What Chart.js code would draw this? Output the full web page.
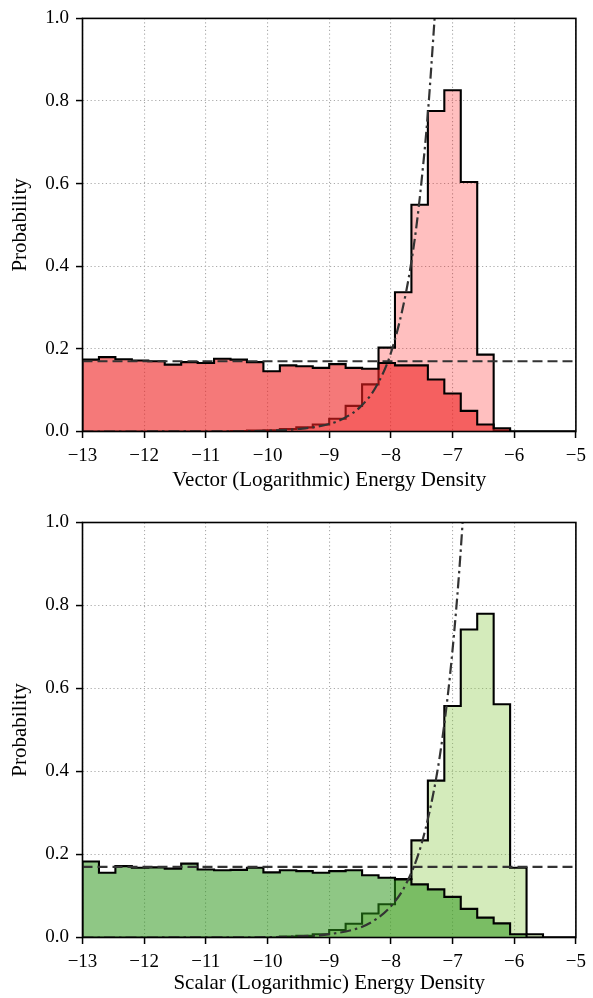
<!DOCTYPE html>
<html>
<head>
<meta charset="utf-8">
<script src="https://cdn.jsdelivr.net/npm/chart.js@4.4.0/dist/chart.umd.min.js"></script>
<style>
  html, body { margin: 0; padding: 0; background: #fff; }
  canvas { display: block; }
</style>
</head>
<body>
<canvas id="grafico-vector" width="593" height="499"></canvas>
<canvas id="grafico-scalar" width="593" height="499"></canvas>
<script>
// histogram bins: 30 bins spanning the x range
var binStart = -13;
var binEnd = -5;
var binCount = 30;

// bin heights (probability density)
var vectorFlat = [0.174, 0.180, 0.175, 0.172, 0.170, 0.162, 0.168, 0.166, 0.176, 0.174,
                  0.168, 0.146, 0.160, 0.158, 0.154, 0.163, 0.154, 0.152, 0.166, 0.160,
                  0.160, 0.126, 0.092, 0.050, 0.017, 0.008, 0, 0, 0, 0];
var vectorPeak = [0, 0, 0, 0, 0, 0, 0, 0, 0, 0.001,
                  0.002, 0.003, 0.006, 0.010, 0.017, 0.031, 0.062, 0.114, 0.203, 0.337,
                  0.549, 0.776, 0.826, 0.604, 0.186, 0.002, 0, 0, 0, 0];
var scalarFlat = [0.183, 0.156, 0.172, 0.168, 0.169, 0.166, 0.178, 0.164, 0.162, 0.163,
                  0.168, 0.157, 0.162, 0.160, 0.156, 0.160, 0.162, 0.150, 0.144, 0.140,
                  0.128, 0.116, 0.098, 0.069, 0.048, 0.034, 0.008, 0, 0, 0];
var scalarPeak = [0, 0, 0, 0, 0, 0, 0, 0, 0, 0,
                  0, 0, 0.002, 0.004, 0.008, 0.018, 0.033, 0.058, 0.080, 0.141,
                  0.234, 0.378, 0.558, 0.742, 0.780, 0.562, 0.168, 0.008, 0, 0];

// dash-dot fit curves
var vectorFitX = [-13, -10.5, -10, -9.5, -9, -8.75, -8.5, -8.25, -8, -7.75, -7.6, -7.5, -7.4, -7.3, -7.25];
var vectorFitY = [0, 0.0005, 0.002, 0.006, 0.018, 0.033, 0.059, 0.106, 0.19, 0.34, 0.48, 0.61, 0.77, 0.98, 1.09];
var scalarFitX = [-13, -10.5, -10, -9.5, -9, -8.5, -8.25, -8, -7.75, -7.5, -7.25, -7.1, -7, -6.9, -6.8];
var scalarFitY = [0, 0.0003, 0.0009, 0.0026, 0.008, 0.024, 0.043, 0.075, 0.13, 0.227, 0.397, 0.554, 0.693, 0.866, 1.08];

// dashed uniform level
var uniformLevel = 0.17;

var xTicks = [-13, -12, -11, -10, -9, -8, -7, -6, -5];
var yTicks = [0, 0.2, 0.4, 0.6, 0.8, 1.0];

Chart.defaults.font.family = "'Liberation Serif', 'Times New Roman', serif";
Chart.defaults.color = "#000";

function binEdges() {
  var edges = [];
  for (var k = 0; k <= binCount; k++) {
    edges.push(binStart + (k * (binEnd - binStart)) / binCount);
  }
  return edges;
}

function histPoints(values) {
  var edges = binEdges();
  var pts = [{ x: edges[0], y: 0 }];
  for (var i = 0; i < values.length; i++) {
    pts.push({ x: edges[i], y: values[i] });
  }
  pts.push({ x: edges[binCount], y: 0 });
  return pts;
}

function zipPoints(xs, ys) {
  return xs.map(function (x, i) {
    return { x: x, y: ys[i] };
  });
}

var framePlugin = {
  id: "frame",
  afterDatasetsDraw: function (chart) {
    var ctx = chart.ctx;
    var a = chart.chartArea;
    ctx.save();
    ctx.strokeStyle = "#000";
    ctx.lineWidth = 1.6;
    ctx.strokeRect(a.left, a.top, a.right - a.left, a.bottom - a.top);
    ctx.restore();
  },
};

function makeChart(id, cfg) {
  var ctx = document.getElementById(id).getContext("2d");
  return new Chart(ctx, {
    type: "line",
    data: {
      datasets: [
        {
          label: "fit",
          data: zipPoints(cfg.fitX, cfg.fitY),
          borderColor: "#333333",
          borderWidth: 2.2,
          borderDash: [11, 4, 2.5, 4],
          cubicInterpolationMode: "monotone",
          pointRadius: 0,
          fill: false,
          order: 0,
        },
        {
          label: "uniform",
          data: [{ x: binStart, y: uniformLevel }, { x: binEnd, y: uniformLevel }],
          borderColor: "#333333",
          borderWidth: 2.2,
          borderDash: [10, 5],
          pointRadius: 0,
          fill: false,
          order: 1,
        },
        {
          label: "flat",
          data: histPoints(cfg.flat),
          stepped: "before",
          borderColor: "#000",
          borderWidth: 2.1,
          backgroundColor: cfg.flatColor,
          fill: "origin",
          pointRadius: 0,
          order: 2,
        },
        {
          label: "peak",
          data: histPoints(cfg.peak),
          stepped: "before",
          borderColor: "#000",
          borderWidth: 2.1,
          backgroundColor: cfg.peakColor,
          fill: "origin",
          pointRadius: 0,
          order: 3,
        },
      ],
    },
    options: {
      responsive: false,
      animation: false,
      events: [],
      layout: {
        padding: { left: 0, right: 16, top: cfg.top, bottom: 0 },
      },
      plugins: {
        legend: { display: false },
        tooltip: { enabled: false },
      },
      scales: {
        x: {
          type: "linear",
          min: binStart,
          max: binEnd,
          afterBuildTicks: function (s) {
            s.ticks = xTicks.map(function (v) { return { value: v }; });
          },
          afterFit: function (s) {
            s.height = cfg.xHeight;
          },
          ticks: {
            maxRotation: 0,
            autoSkip: false,
            padding: 7,
            font: { size: 19 },
            callback: function (v) {
              return v < 0 ? "\u2212" + Math.abs(v) : String(v);
            },
          },
          grid: {
            color: "#aaaaaa",
            lineWidth: 1.1,
            tickLength: 6.5,
            tickColor: "#000",
            tickWidth: 1.5,
          },
          border: { display: false, dash: [1.2, 2.6] },
          title: {
            display: true,
            text: cfg.xTitle,
            font: { size: 21 },
            padding: { top: 0, bottom: cfg.titlePad },
          },
        },
        y: {
          min: 0,
          max: 1,
          afterBuildTicks: function (s) {
            s.ticks = yTicks.map(function (v) { return { value: v }; });
          },
          afterFit: function (s) {
            s.width = 82.5;
          },
          ticks: {
            padding: 7,
            font: { size: 19 },
            callback: function (v) {
              return v.toFixed(1);
            },
          },
          grid: {
            color: "#aaaaaa",
            lineWidth: 1.1,
            tickLength: 6.5,
            tickColor: "#000",
            tickWidth: 1.5,
          },
          border: { display: false, dash: [1.2, 2.6] },
          title: {
            display: true,
            text: "Probability",
            font: { size: 21 },
            padding: { top: 7.5, bottom: 0 },
          },
        },
      },
    },
    plugins: [framePlugin],
  });
}

makeChart("grafico-vector", {
  flat: vectorFlat,
  peak: vectorPeak,
  fitX: vectorFitX,
  fitY: vectorFitY,
  flatColor: "rgba(238,31,31,0.6)",
  peakColor: "rgba(255,0,0,0.25)",
  xTitle: "Vector (Logarithmic) Energy Density",
  top: 16,
  xHeight: 67.5,
  titlePad: 5.5,
});

makeChart("grafico-scalar", {
  flat: scalarFlat,
  peak: scalarPeak,
  fitX: scalarFitX,
  fitY: scalarFitY,
  flatColor: "rgba(44,150,25,0.53)",
  peakColor: "rgba(132,198,61,0.35)",
  xTitle: "Scalar (Logarithmic) Energy Density",
  top: 23.5,
  xHeight: 60.5,
  titlePad: 1.5,
});
</script>
</body>
</html>
